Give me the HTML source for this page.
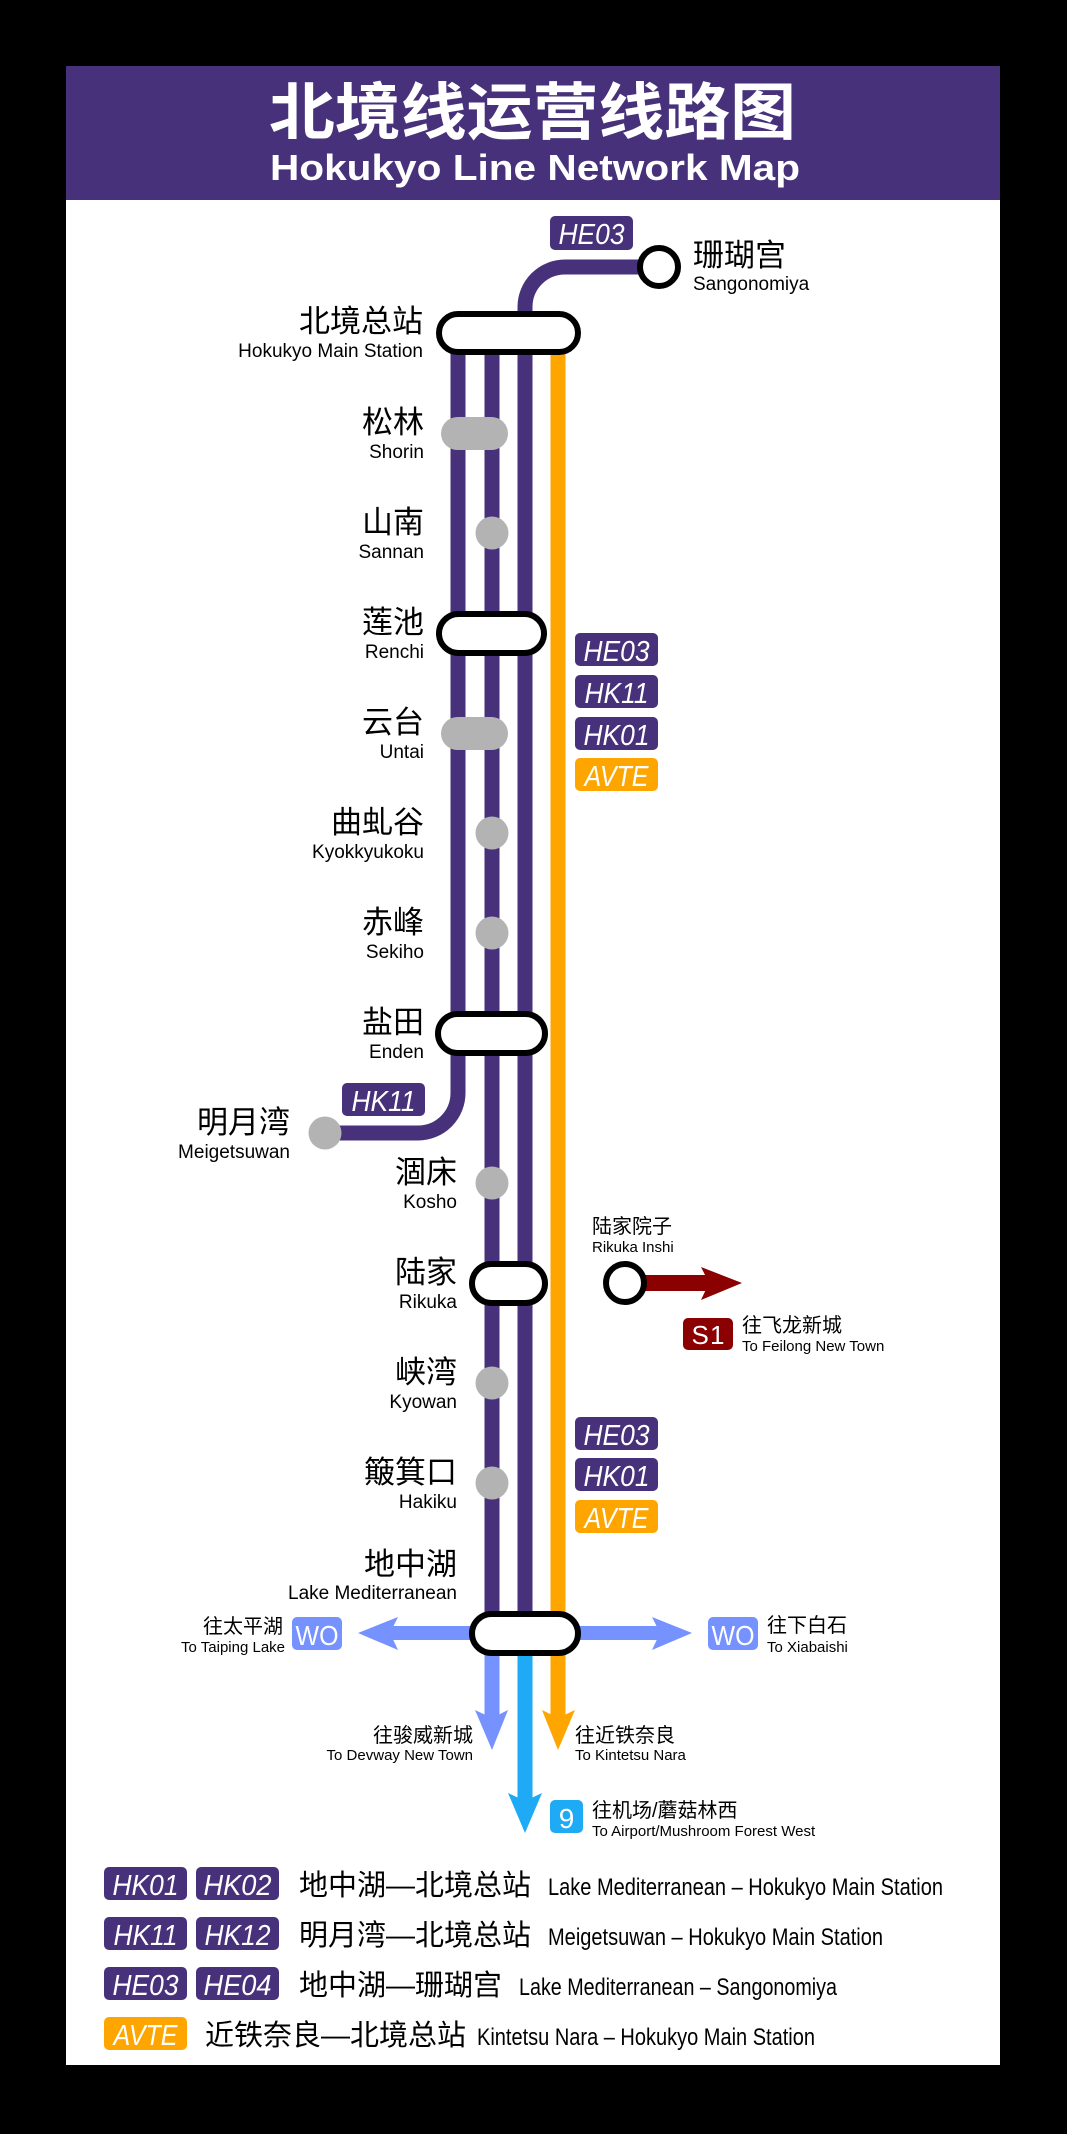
<!DOCTYPE html>
<html>
<head>
<meta charset="utf-8">
<style>
  html,body{margin:0;padding:0;background:#000;}
  svg{display:block;}
  .cj{font-family:"Liberation Sans","Noto Sans CJK SC",sans-serif;}
  .la{font-family:"Liberation Sans","Noto Sans CJK SC",sans-serif;}
  .bd{font-family:"Liberation Sans",sans-serif;font-style:italic;fill:#fff;}
</style>
</head>
<body>
<svg width="1067" height="2134" viewBox="0 0 1067 2134" xmlns="http://www.w3.org/2000/svg">
  <rect x="0" y="0" width="1067" height="2134" fill="#000"/>
  <!-- panel -->
  <rect x="66" y="200" width="934" height="1865" fill="#fff"/>
  <!-- header -->
  <rect x="66" y="66" width="934" height="134" fill="#46317a"/>
  <text x="269" y="134" font-size="62" font-weight="bold" fill="#fff" class="cj" textLength="527" lengthAdjust="spacingAndGlyphs">北境线运营线路图</text>
  <text x="270" y="180" font-size="36" font-weight="bold" fill="#fff" class="la" textLength="530" lengthAdjust="spacingAndGlyphs">Hokukyo Line Network Map</text>

  <!-- main lines -->
  <g fill="none" stroke-width="15">
    <path d="M458 340 V1093 A40 40 0 0 1 418 1133 H325" stroke="#46317a"/>
    <path d="M492 340 V1625" stroke="#46317a"/>
    <path d="M659 267 H565 A40 40 0 0 0 525 307 V1625" stroke="#46317a"/>
    <path d="M558 340 V1625" stroke="#ffa500"/>
    <!-- below Lake Mediterranean -->
    <path d="M492 1645 V1722" stroke="#7592ff"/>
    <path d="M525 1645 V1805" stroke="#1eaaf5"/>
    <path d="M558 1645 V1722" stroke="#ffa500"/>
    <path d="M480 1633 H390" stroke="#7592ff" stroke-width="14"/>
    <path d="M570 1633 H662" stroke="#7592ff" stroke-width="14"/>
    <path d="M640 1283 H712" stroke="#8b0000" stroke-width="16"/>
  </g>
  <!-- arrowheads -->
  <polygon points="358,1633 398,1617 390,1633 398,1650" fill="#7592ff"/>
  <polygon points="692,1633 652,1617 660,1633 652,1650" fill="#7592ff"/>
  <polygon points="492,1750 475,1710 492,1718 508,1710" fill="#7592ff"/>
  <polygon points="525,1833 508,1793 525,1801 542,1793" fill="#1eaaf5"/>
  <polygon points="558,1750 542,1710 558,1718 575,1710" fill="#ffa500"/>
  <polygon points="742,1283 701,1267 709,1283 701,1300" fill="#8b0000"/>

  <!-- grey stations -->
  <g fill="#b3b3b3">
    <rect x="441" y="417" width="67" height="33" rx="16.5"/>
    <rect x="441" y="717" width="67" height="33" rx="16.5"/>
    <circle cx="492" cy="533" r="16.5"/>
    <circle cx="492" cy="833" r="16.5"/>
    <circle cx="492" cy="933" r="16.5"/>
    <circle cx="492" cy="1183" r="16.5"/>
    <circle cx="492" cy="1383" r="16.5"/>
    <circle cx="492" cy="1483" r="16.5"/>
    <circle cx="325" cy="1133" r="16.5"/>
  </g>
  <!-- interchange stations -->
  <g fill="#fff" stroke="#000" stroke-width="6">
    <rect x="439" y="314" width="139" height="38" rx="19"/>
    <rect x="439" y="614" width="105" height="39" rx="19.5"/>
    <rect x="438" y="1014" width="107" height="39" rx="19.5"/>
    <rect x="472" y="1264" width="73" height="39" rx="19.5"/>
    <rect x="472" y="1614" width="106" height="39" rx="19.5"/>
    <circle cx="659" cy="267" r="19"/>
    <circle cx="625" cy="1283" r="19"/>
  </g>

  <!-- station labels -->
  <g class="cj" font-size="31" fill="#000" text-anchor="end">
    <text x="423" y="332">北境总站</text>
    <text x="424" y="433">松林</text>
    <text x="424" y="533">山南</text>
    <text x="424" y="633">莲池</text>
    <text x="424" y="733">云台</text>
    <text x="424" y="833">曲虬谷</text>
    <text x="424" y="933">赤峰</text>
    <text x="424" y="1033">盐田</text>
    <text x="290" y="1133">明月湾</text>
    <text x="457" y="1183">涸床</text>
    <text x="457" y="1283">陆家</text>
    <text x="457" y="1383">峡湾</text>
    <text x="457" y="1483">簸箕口</text>
    <text x="457" y="1575">地中湖</text>
  </g>
  <text x="693" y="266" class="cj" font-size="31" fill="#000">珊瑚宫</text>
  <g class="la" font-size="19" fill="#000" text-anchor="end">
    <text x="423" y="357">Hokukyo Main Station</text>
    <text x="424" y="458">Shorin</text>
    <text x="424" y="558">Sannan</text>
    <text x="424" y="658">Renchi</text>
    <text x="424" y="758">Untai</text>
    <text x="424" y="858">Kyokkyukoku</text>
    <text x="424" y="958">Sekiho</text>
    <text x="424" y="1058">Enden</text>
    <text x="290" y="1158">Meigetsuwan</text>
    <text x="457" y="1208">Kosho</text>
    <text x="457" y="1308">Rikuka</text>
    <text x="457" y="1408">Kyowan</text>
    <text x="457" y="1508">Hakiku</text>
    <text x="457" y="1599">Lake Mediterranean</text>
  </g>
  <text x="693" y="290" class="la" font-size="19" fill="#000">Sangonomiya</text>

  <!-- badges -->
  <g>
    <rect x="550" y="216" width="83" height="34" rx="5" fill="#46317a"/>
    <text x="591.5" y="244" font-size="29" class="bd" text-anchor="middle" textLength="66" lengthAdjust="spacingAndGlyphs">HE03</text>

    <rect x="575" y="633" width="83" height="33" rx="5" fill="#46317a"/>
    <text x="616.5" y="661" font-size="29" class="bd" text-anchor="middle" textLength="66" lengthAdjust="spacingAndGlyphs">HE03</text>
    <rect x="575" y="675" width="83" height="33" rx="5" fill="#46317a"/>
    <text x="616.5" y="703" font-size="29" class="bd" text-anchor="middle" textLength="64" lengthAdjust="spacingAndGlyphs">HK11</text>
    <rect x="575" y="717" width="83" height="33" rx="5" fill="#46317a"/>
    <text x="616.5" y="745" font-size="29" class="bd" text-anchor="middle" textLength="66" lengthAdjust="spacingAndGlyphs">HK01</text>
    <rect x="575" y="758" width="83" height="33" rx="5" fill="#ffa500"/>
    <text x="616.5" y="786" font-size="29" class="bd" text-anchor="middle" textLength="64" lengthAdjust="spacingAndGlyphs">AVTE</text>

    <rect x="342" y="1083" width="83" height="33" rx="5" fill="#46317a"/>
    <text x="383.5" y="1111" font-size="29" class="bd" text-anchor="middle" textLength="64" lengthAdjust="spacingAndGlyphs">HK11</text>

    <rect x="575" y="1417" width="83" height="33" rx="5" fill="#46317a"/>
    <text x="616.5" y="1445" font-size="29" class="bd" text-anchor="middle" textLength="66" lengthAdjust="spacingAndGlyphs">HE03</text>
    <rect x="575" y="1458" width="83" height="33" rx="5" fill="#46317a"/>
    <text x="616.5" y="1486" font-size="29" class="bd" text-anchor="middle" textLength="66" lengthAdjust="spacingAndGlyphs">HK01</text>
    <rect x="575" y="1500" width="83" height="33" rx="5" fill="#ffa500"/>
    <text x="616.5" y="1528" font-size="29" class="bd" text-anchor="middle" textLength="64" lengthAdjust="spacingAndGlyphs">AVTE</text>
  </g>

  <!-- Rikuka Inshi / S1 -->
  <text x="592" y="1233" class="cj" font-size="20" fill="#000">陆家院子</text>
  <text x="592" y="1252" class="la" font-size="15" fill="#000">Rikuka Inshi</text>
  <rect x="683" y="1318" width="50" height="32" rx="5" fill="#8b0000"/>
  <text x="708" y="1344" font-size="26" fill="#fff" class="la" text-anchor="middle" textLength="33" lengthAdjust="spacing">S1</text>
  <text x="742" y="1332" class="cj" font-size="20" fill="#000">往飞龙新城</text>
  <text x="742" y="1351" class="la" font-size="15" fill="#000">To Feilong New Town</text>

  <!-- WO left -->
  <rect x="292" y="1617" width="50" height="33" rx="5" fill="#7592ff"/>
  <text x="317" y="1645" font-size="28" fill="#fff" class="la" text-anchor="middle" textLength="43" lengthAdjust="spacingAndGlyphs">WO</text>
  <text x="283" y="1633" class="cj" font-size="20" fill="#000" text-anchor="end">往太平湖</text>
  <text x="285" y="1652" class="la" font-size="15" fill="#000" text-anchor="end">To Taiping Lake</text>
  <!-- WO right -->
  <rect x="708" y="1617" width="50" height="33" rx="5" fill="#7592ff"/>
  <text x="733" y="1645" font-size="28" fill="#fff" class="la" text-anchor="middle" textLength="43" lengthAdjust="spacingAndGlyphs">WO</text>
  <text x="767" y="1632" class="cj" font-size="20" fill="#000">往下白石</text>
  <text x="767" y="1652" class="la" font-size="15" fill="#000">To Xiabaishi</text>
  <!-- down destinations -->
  <text x="473" y="1742" class="cj" font-size="20" fill="#000" text-anchor="end">往骏威新城</text>
  <text x="473" y="1760" class="la" font-size="15" fill="#000" text-anchor="end">To Devway New Town</text>
  <text x="575" y="1742" class="cj" font-size="20" fill="#000">往近铁奈良</text>
  <text x="575" y="1760" class="la" font-size="15" fill="#000">To Kintetsu Nara</text>
  <rect x="550" y="1800" width="33" height="33" rx="5" fill="#1eaaf5"/>
  <text x="566.5" y="1828" font-size="28" fill="#fff" class="la" text-anchor="middle">9</text>
  <text x="592" y="1817" class="cj" font-size="20" fill="#000">往机场/蘑菇林西</text>
  <text x="592" y="1836" class="la" font-size="15" fill="#000">To Airport/Mushroom Forest West</text>

  <!-- legend -->
  <g>
    <rect x="104" y="1867" width="83" height="33" rx="5" fill="#46317a"/>
    <text x="145.5" y="1895" font-size="29" class="bd" text-anchor="middle" textLength="66" lengthAdjust="spacingAndGlyphs">HK01</text>
    <rect x="196" y="1867" width="83" height="33" rx="5" fill="#46317a"/>
    <text x="237.5" y="1895" font-size="29" class="bd" text-anchor="middle" textLength="68" lengthAdjust="spacingAndGlyphs">HK02</text>
    <text x="299" y="1895" class="cj" font-size="29" fill="#000">地中湖—北境总站</text>
    <text x="548" y="1895" class="la" font-size="24" fill="#000" textLength="395" lengthAdjust="spacingAndGlyphs">Lake Mediterranean – Hokukyo Main Station</text>

    <rect x="104" y="1917" width="83" height="33" rx="5" fill="#46317a"/>
    <text x="145.5" y="1945" font-size="29" class="bd" text-anchor="middle" textLength="64" lengthAdjust="spacingAndGlyphs">HK11</text>
    <rect x="196" y="1917" width="83" height="33" rx="5" fill="#46317a"/>
    <text x="237.5" y="1945" font-size="29" class="bd" text-anchor="middle" textLength="66" lengthAdjust="spacingAndGlyphs">HK12</text>
    <text x="299" y="1945" class="cj" font-size="29" fill="#000">明月湾—北境总站</text>
    <text x="548" y="1945" class="la" font-size="24" fill="#000" textLength="335" lengthAdjust="spacingAndGlyphs">Meigetsuwan – Hokukyo Main Station</text>

    <rect x="104" y="1967" width="83" height="33" rx="5" fill="#46317a"/>
    <text x="145.5" y="1995" font-size="29" class="bd" text-anchor="middle" textLength="66" lengthAdjust="spacingAndGlyphs">HE03</text>
    <rect x="196" y="1967" width="83" height="33" rx="5" fill="#46317a"/>
    <text x="237.5" y="1995" font-size="29" class="bd" text-anchor="middle" textLength="68" lengthAdjust="spacingAndGlyphs">HE04</text>
    <text x="299" y="1995" class="cj" font-size="29" fill="#000">地中湖—珊瑚宫</text>
    <text x="519" y="1995" class="la" font-size="24" fill="#000" textLength="318" lengthAdjust="spacingAndGlyphs">Lake Mediterranean – Sangonomiya</text>

    <rect x="104" y="2017" width="83" height="33" rx="5" fill="#ffa500"/>
    <text x="145.5" y="2045" font-size="29" class="bd" text-anchor="middle" textLength="64" lengthAdjust="spacingAndGlyphs">AVTE</text>
    <text x="205" y="2045" class="cj" font-size="29" fill="#000">近铁奈良—北境总站</text>
    <text x="477" y="2045" class="la" font-size="24" fill="#000" textLength="338" lengthAdjust="spacingAndGlyphs">Kintetsu Nara – Hokukyo Main Station</text>
  </g>
</svg>
</body>
</html>
